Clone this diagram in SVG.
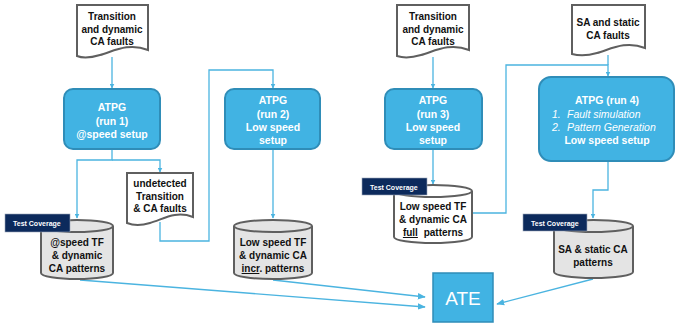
<svg xmlns="http://www.w3.org/2000/svg" width="675" height="323" viewBox="0 0 675 323">
<defs>
<marker id="ah" viewBox="0 0 10 10" refX="9" refY="5" markerWidth="5" markerHeight="5" orient="auto-start-reverse" markerUnits="userSpaceOnUse">
<path d="M0,0 L10,5 L0,10 z" fill="#4bb4e0"/>
</marker>
<marker id="ah2" viewBox="0 0 10 10" refX="9" refY="5" markerWidth="8" markerHeight="8" orient="auto" markerUnits="userSpaceOnUse">
<path d="M0,1 L10,5 L0,9 z" fill="#4bb4e0"/>
</marker>
</defs>
<style>
.doc{fill:#fff;stroke:#5f5f5f;stroke-width:2}
.atpg{fill:#41b3e3;stroke:#2f8db8;stroke-width:2}
.cylg{fill:#e4e4e4;stroke:#5f5f5f;stroke-width:2}
.cylw{fill:#fff;stroke:#5f5f5f;stroke-width:2}
.tc{fill:#0c2a5c;stroke:#9aa6b8;stroke-width:0.6}
.tct{font-family:"Liberation Sans",Arial,sans-serif;font-size:7px;font-weight:bold;fill:#fff}
.dt{font-family:"Liberation Sans",Arial,sans-serif;font-size:10px;font-weight:bold;fill:#111;text-anchor:middle}
.at{font-family:"Liberation Sans",Arial,sans-serif;font-size:10.5px;font-weight:bold;fill:#fff;text-anchor:middle}
.ai{font-family:"Liberation Sans",Arial,sans-serif;font-size:10.5px;font-style:italic;fill:#fff}
.con{fill:none;stroke:#4bb4e0;stroke-width:1.3}
</style>

<g id="connectors">
<path class="con" d="M112,57 V88" marker-end="url(#ah)"/>
<path class="con" d="M112,149 V160 H77 V218" marker-end="url(#ah)"/>
<path class="con" d="M112,160 H160 V172" marker-end="url(#ah)"/>
<path class="con" d="M160,222 V241 H209 V70 H273 V88" marker-end="url(#ah)"/>
<path class="con" d="M273,149 V218" marker-end="url(#ah)"/>
<path class="con" d="M433,57 V88" marker-end="url(#ah)"/>
<path class="con" d="M433,149 V184" marker-end="url(#ah)"/>
<path class="con" d="M472,213 H506 V65 H608 V76" marker-end="url(#ah)"/>
<path class="con" d="M608,55 V65"/>
<path class="con" d="M608,161 V190 H593 V218" marker-end="url(#ah)"/>
<path class="con" d="M80,280 L425,307" marker-end="url(#ah2)"/>
<path class="con" d="M273,280 L425,297" marker-end="url(#ah2)"/>
<path class="con" d="M593,279 L497,304" marker-end="url(#ah2)"/>
</g>

<g id="doc1">
<path class="doc" d="M77,5 H148 V50 C128,42 112,52 100,55 C90,58 82,58 77,56 Z"/>
<text class="dt" x="112" y="20">Transition</text>
<text class="dt" x="112" y="32.5">and dynamic</text>
<text class="dt" x="112" y="45">CA faults</text>
</g>

<g id="atpg1">
<rect class="atpg" x="64" y="89" width="96" height="60" rx="9"/>
<text class="at" x="112" y="111">ATPG</text>
<text class="at" x="112" y="124.5">(run 1)</text>
<text class="at" x="112" y="138">@speed setup</text>
</g>

<g id="undetected">
<path class="doc" d="M127,173 H193 V217 C175,210 162,220 150,223 C140,226 132,225 127,223 Z"/>
<text class="dt" x="160" y="187">undetected</text>
<text class="dt" x="160" y="199.5">Transition</text>
<text class="dt" x="160" y="212">&amp; CA faults</text>
</g>

<g id="cyl1">
<path class="cylg" d="M41,226 A36,6 0 0 1 113,226 V273 A36,6 0 0 1 41,273 Z"/>
<path class="cylg" d="M41,226 A36,6 0 0 0 113,226" fill="none"/>
<text class="dt" x="77" y="246">@speed TF</text>
<text class="dt" x="77" y="259">&amp; dynamic</text>
<text class="dt" x="77" y="272">CA patterns</text>
</g>
<g id="tc1">
<rect class="tc" x="5" y="214" width="65" height="18"/>
<text class="tct" x="13" y="226">Test Coverage</text>
</g>

<g id="atpg2">
<rect class="atpg" x="225" y="89" width="95" height="60" rx="9"/>
<text class="at" x="273" y="104">ATPG</text>
<text class="at" x="273" y="117.5">(run 2)</text>
<text class="at" x="273" y="131">Low speed</text>
<text class="at" x="273" y="144">setup</text>
</g>

<g id="cyl2">
<path class="cylg" d="M234,226 A39,6 0 0 1 312,226 V273 A39,6 0 0 1 234,273 Z"/>
<path class="cylg" d="M234,226 A39,6 0 0 0 312,226" fill="none"/>
<text class="dt" x="273" y="246">Low speed TF</text>
<text class="dt" x="273" y="259">&amp; dynamic CA</text>
<text class="dt" x="273" y="272"><tspan text-decoration="underline">incr</tspan>. patterns</text>
</g>

<g id="doc3">
<path class="doc" d="M397,5 H469 V50 C449,42 433,52 421,55 C411,58 403,58 397,56 Z"/>
<text class="dt" x="433" y="20">Transition</text>
<text class="dt" x="433" y="32.5">and dynamic</text>
<text class="dt" x="433" y="45">CA faults</text>
</g>

<g id="atpg3">
<rect class="atpg" x="385" y="89" width="97" height="60" rx="9"/>
<text class="at" x="433" y="104">ATPG</text>
<text class="at" x="433" y="117.5">(run 3)</text>
<text class="at" x="433" y="131">Low speed</text>
<text class="at" x="433" y="144">setup</text>
</g>

<g id="cyl3">
<path class="cylw" d="M394,191 A39,6 0 0 1 472,191 V237 A39,6 0 0 1 394,237 Z"/>
<path class="cylw" d="M394,191 A39,6 0 0 0 472,191" fill="none"/>
<text class="dt" x="433" y="210">Low speed TF</text>
<text class="dt" x="433" y="223">&amp; dynamic CA</text>
<text class="dt" x="433" y="236"><tspan text-decoration="underline">full</tspan><tspan dx="3"> patterns</tspan></text>
</g>
<g id="tc3">
<rect class="tc" x="362" y="178" width="65" height="17"/>
<text class="tct" x="370" y="189.5">Test Coverage</text>
</g>

<g id="doc4">
<path class="doc" d="M572,5 H645 V48 C625,40 609,50 597,53 C587,56 579,56 572,54 Z"/>
<text class="dt" x="608" y="26">SA and static</text>
<text class="dt" x="608" y="38.5">CA faults</text>
</g>

<g id="atpg4">
<rect class="atpg" x="539" y="77" width="135" height="84" rx="12"/>
<text class="at" x="607" y="104">ATPG (run 4)</text>
<text class="ai" x="552" y="117.5">1.</text>
<text class="ai" x="567" y="117.5">Fault simulation</text>
<text class="ai" x="552" y="131">2.</text>
<text class="ai" x="567" y="131">Pattern Generation</text>
<text class="at" x="607" y="144">Low speed setup</text>
</g>

<g id="cyl4">
<path class="cylg" d="M554,226 A39.5,6 0 0 1 633,226 V272 A39.5,6 0 0 1 554,272 Z"/>
<path class="cylg" d="M554,226 A39.5,6 0 0 0 633,226" fill="none"/>
<text class="dt" x="593" y="253">SA &amp; static CA</text>
<text class="dt" x="593" y="265.5">patterns</text>
</g>
<g id="tc4">
<rect class="tc" x="523" y="214" width="64" height="17"/>
<text class="tct" x="531" y="225.5">Test Coverage</text>
</g>

<g id="ate">
<rect x="433" y="273" width="60" height="49" fill="#41b3e3" stroke="#2f8db8" stroke-width="1.5"/>
<text x="463" y="305" font-family="Liberation Sans,Arial,sans-serif" font-size="19" fill="#fff" text-anchor="middle">ATE</text>
</g>
</svg>
